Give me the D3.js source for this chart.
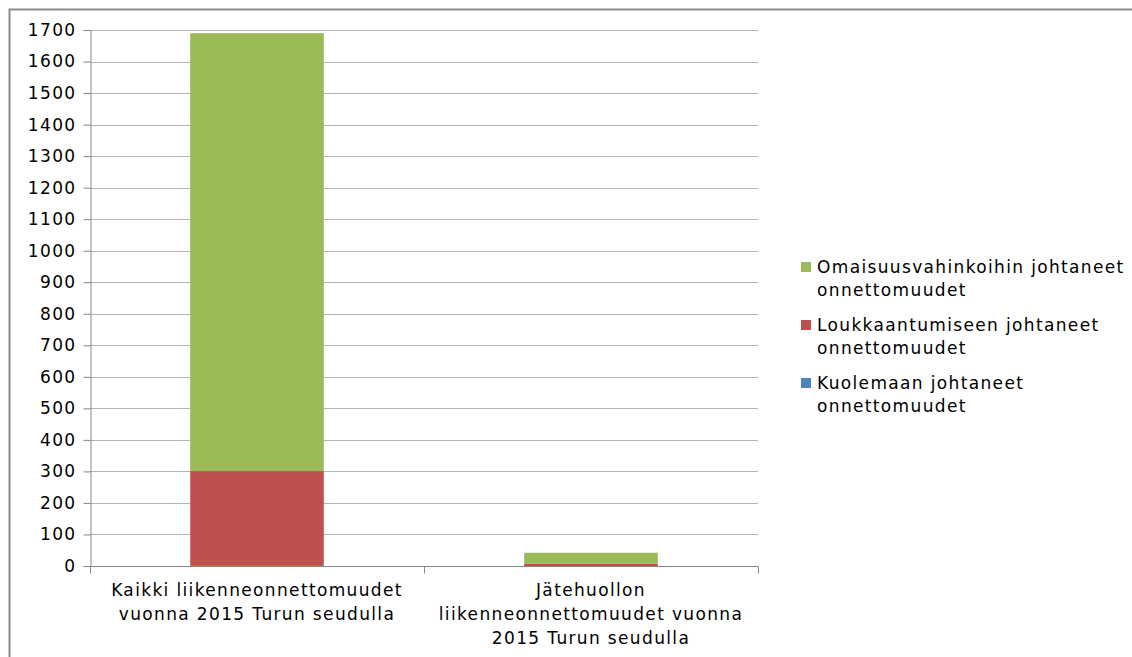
<!DOCTYPE html>
<html>
<head>
<meta charset="utf-8">
<script src="https://cdn.jsdelivr.net/npm/d3@7"></script>
<style>
  body { margin: 0; background: #fff; }
  svg { display: block; font-family: Verdana, "DejaVu Sans", sans-serif; }
  text { letter-spacing: 1.35px; }
</style>
</head>
<body>
<svg id="chart" width="1132" height="657"></svg>
<script>
var categories = [
  ["Kaikki liikenneonnettomuudet", "vuonna 2015 Turun seudulla"],
  ["Jätehuollon", "liikenneonnettomuudet vuonna", "2015 Turun seudulla"]
];
var kuolema = [3, 0];
var loukkaantuminen = [298, 8];
var omaisuus = [1389, 34];

var seriesNames = ["Kuolemaan johtaneet onnettomuudet", "Loukkaantumiseen johtaneet onnettomuudet", "Omaisuusvahinkoihin johtaneet onnettomuudet"];
var seriesColors = ["#4f81bd", "#c0504d", "#9bbb59"];
var yTicks = d3.range(0, 1701, 100);

var svg = d3.select("#chart");

// outer frame
svg.append("rect")
  .attr("x", 9.5).attr("y", 9.5)
  .attr("width", 1200).attr("height", 700)
  .attr("fill", "none").attr("stroke", "#8c8c8c").attr("stroke-width", 2);

var plotLeft = 90, plotRight = 758, plotTop = 30, plotBottom = 566;

var x = d3.scaleBand()
  .domain(d3.range(categories.length))
  .range([plotLeft, plotRight])
  .paddingInner(0.6)
  .paddingOuter(0.3);

var y = d3.scaleLinear()
  .domain([0, 1700])
  .range([plotBottom, plotTop]);

// gridlines
svg.append("g")
  .selectAll("line")
  .data(yTicks.filter(function(d) { return d > 0; }))
  .enter().append("line")
  .attr("x1", plotLeft).attr("x2", plotRight)
  .attr("y1", function(d) { return Math.round(y(d)) + 0.5; })
  .attr("y2", function(d) { return Math.round(y(d)) + 0.5; })
  .attr("stroke", "#b3b3b3");

// stacked bars
var rows = categories.map(function(c, i) {
  return { i: i, k: kuolema[i], l: loukkaantuminen[i], o: omaisuus[i] };
});
var stack = d3.stack().keys(["k", "l", "o"]);
var layers = stack(rows);

svg.append("g")
  .selectAll("g")
  .data(layers)
  .enter().append("g")
  .attr("fill", function(d, i) { return seriesColors[i]; })
  .selectAll("rect")
  .data(function(d) { return d; })
  .enter().append("rect")
  .attr("x", function(d) { return x(d.data.i); })
  .attr("width", x.bandwidth())
  .attr("y", function(d) { return y(d[1]); })
  .attr("height", function(d) { return y(d[0]) - y(d[1]); });

// y axis
var yAxis = svg.append("g")
  .attr("transform", "translate(" + (plotLeft + 0.5) + ",0)")
  .call(d3.axisLeft(y).tickValues(yTicks).tickFormat(d3.format("d"))
    .tickSize(7).tickSizeOuter(0).tickPadding(7));
yAxis.selectAll("line, path").attr("stroke", "#868686");
yAxis.selectAll("text").attr("font-size", 17).attr("fill", "#000")
  .attr("font-family", "Verdana, 'DejaVu Sans', sans-serif");

// x axis
var xAxisY = Math.round(y(0)) + 0.5;
var xg = svg.append("g");
xg.append("line")
  .attr("x1", plotLeft).attr("x2", plotRight)
  .attr("y1", xAxisY).attr("y2", xAxisY)
  .attr("stroke", "#868686");
var bounds = [plotLeft, (plotLeft + plotRight) / 2, plotRight];
xg.selectAll(".tick")
  .data(bounds)
  .enter().append("line")
  .attr("x1", function(d) { return Math.round(d) + 0.5; })
  .attr("x2", function(d) { return Math.round(d) + 0.5; })
  .attr("y1", xAxisY).attr("y2", xAxisY + 7)
  .attr("stroke", "#868686");

xg.selectAll(".xlab")
  .data(categories)
  .enter().append("text")
  .attr("text-anchor", "middle")
  .attr("font-size", 17)
  .attr("fill", "#000")
  .each(function(lines, i) {
    var t = d3.select(this);
    lines.forEach(function(s, j) {
      t.append("tspan")
        .attr("x", x(i) + x.bandwidth() / 2)
        .attr("y", 596 + j * 24)
        .text(s);
    });
  });

// legend (reverse order, like the stack from top)
var legendItems = [
  { name: ["Omaisuusvahinkoihin johtaneet", "onnettomuudet"], color: seriesColors[2] },
  { name: ["Loukkaantumiseen johtaneet", "onnettomuudet"], color: seriesColors[1] },
  { name: ["Kuolemaan johtaneet", "onnettomuudet"], color: seriesColors[0] }
];
var lg = svg.append("g").attr("transform", "translate(801,262)");
var item = lg.selectAll("g")
  .data(legendItems)
  .enter().append("g")
  .attr("transform", function(d, i) { return "translate(0," + (i * 58) + ")"; });
item.append("rect")
  .attr("x", 0).attr("y", 0)
  .attr("width", 10).attr("height", 10)
  .attr("fill", function(d) { return d.color; });
item.append("text")
  .attr("font-size", 17)
  .attr("fill", "#000")
  .each(function(d) {
    var t = d3.select(this);
    d.name.forEach(function(s, j) {
      t.append("tspan").attr("x", 16).attr("y", 11 + j * 23).text(s);
    });
  });
</script>
</body>
</html>
